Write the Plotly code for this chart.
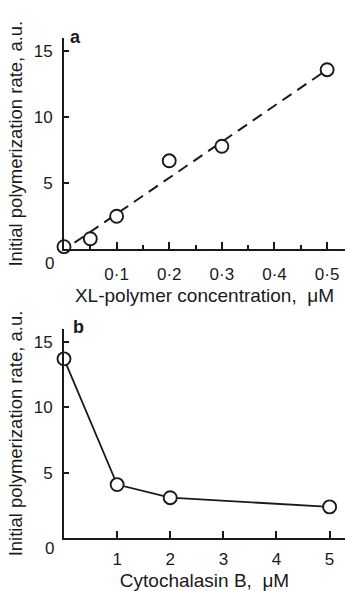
import plotly.graph_objects as go

W, H = 345, 591

# ---- data ----
xl_conc = [0.0, 0.05, 0.1, 0.2, 0.3, 0.5]
xl_rate = [0.2, 0.8, 2.5, 6.7, 7.8, 13.6]
fit_conc = [0.02, 0.5]
fit_rate = [0.5, 13.6]

cb_conc = [0, 1, 2, 5]
cb_rate = [13.7, 4.1, 3.1, 2.4]

xa_tickvals = [0.1, 0.2, 0.3, 0.4, 0.5]
xa_ticktext = ["0·1", "0·2", "0·3", "0·4", "0·5"]
xb_tickvals = [1, 2, 3, 4, 5]
xb_ticktext = ["1", "2", "3", "4", "5"]
y_tickvals = [5, 10, 15]
y_ticktext = ["5", "10", "15"]

ytitle = "Initial polymerization rate, a.u."
xa_title = "XL-polymer concentration,  \u03bcM"
xb_title = "Cytochalasin B,  \u03bcM"

INK = "#1a1a1a"
TICKFONT = dict(family="Liberation Sans Narrow, Liberation Sans, Arial", size=17, color=INK)
TITLEFONT = dict(family="Liberation Sans, Arial", size=19, color=INK)

def ydom(top_px, bot_px):
    return [1 - bot_px / H, 1 - top_px / H]

xdom = [64 / W, 1.0]

fig = go.Figure()

marker = dict(symbol="circle", size=13, color="white", line=dict(color=INK, width=1.9))

fig.add_trace(go.Scatter(x=fit_conc, y=fit_rate, mode="lines",
                         line=dict(color=INK, width=2, dash="11px,7px"),
                         xaxis="x", yaxis="y", showlegend=False, hoverinfo="skip"))
fig.add_trace(go.Scatter(x=xl_conc, y=xl_rate, mode="markers", marker=marker,
                         xaxis="x", yaxis="y", showlegend=False, cliponaxis=False))
fig.add_trace(go.Scatter(x=cb_conc, y=cb_rate, mode="lines+markers", marker=marker,
                         line=dict(color=INK, width=1.8),
                         xaxis="x2", yaxis="y2", showlegend=False, cliponaxis=False))

common_x = dict(showgrid=False, zeroline=False, showline=True, linecolor=INK, linewidth=2,
                ticks="inside", tickcolor=INK, tickwidth=2, ticklen=7, tickfont=TICKFONT,
                fixedrange=True)
common_y = dict(showgrid=False, zeroline=False, showline=True, linecolor=INK, linewidth=2,
                ticks="inside", tickcolor=INK, tickwidth=2, ticklen=5, tickfont=TICKFONT,
                tickvals=y_tickvals, ticktext=y_ticktext, range=[0, 16],
                ticklabelstandoff=6, fixedrange=True)

fig.update_layout(
    width=W, height=H,
    margin=dict(l=0, r=0, t=0, b=0),
    paper_bgcolor="white", plot_bgcolor="white",
    xaxis=dict(common_x, domain=xdom, anchor="y", range=[0, 0.534],
               tickvals=xa_tickvals, ticktext=xa_ticktext,
               minor=dict(dtick=0.05, tick0=0, ticks="inside", ticklen=4, tickwidth=2, tickcolor=INK),
               ticklabelstandoff=8,
               title=dict(text=xa_title, font=TITLEFONT, standoff=6)),
    yaxis=dict(common_y, domain=ydom(38, 249.3), anchor="x",
               title=dict(text=ytitle, font=dict(TITLEFONT, size=18.5), standoff=6)),
    xaxis2=dict(common_x, domain=xdom, anchor="y2", range=[0, 5.29],
                tickvals=xb_tickvals, ticktext=xb_ticktext, ticklabelstandoff=4,
                title=dict(text=xb_title, font=TITLEFONT, standoff=7)),
    yaxis2=dict(common_y, domain=ydom(328.7, 538.3), anchor="x2",
                title=dict(text=ytitle, font=dict(TITLEFONT, size=18.5), standoff=6)),
    annotations=[
        dict(text="<b>a</b>", x=75 / W, y=1 - 37 / H, xref="paper", yref="paper",
             showarrow=False, font=dict(family="Liberation Sans, Arial", size=18, color=INK),
             xanchor="center", yanchor="middle"),
        dict(text="<b>b</b>", x=78 / W, y=1 - 327 / H, xref="paper", yref="paper",
             showarrow=False, font=dict(family="Liberation Sans, Arial", size=18, color=INK),
             xanchor="center", yanchor="middle"),
        dict(text="0", x=0, y=0, xref="x", yref="y", showarrow=False, font=TICKFONT,
             xshift=-15, yshift=-14, xanchor="center", yanchor="middle"),
        dict(text="0", x=0, y=0, xref="x2", yref="y2", showarrow=False, font=TICKFONT,
             xshift=-15, yshift=-10, xanchor="center", yanchor="middle"),
    ],
)

fig.write_html("out.html")
